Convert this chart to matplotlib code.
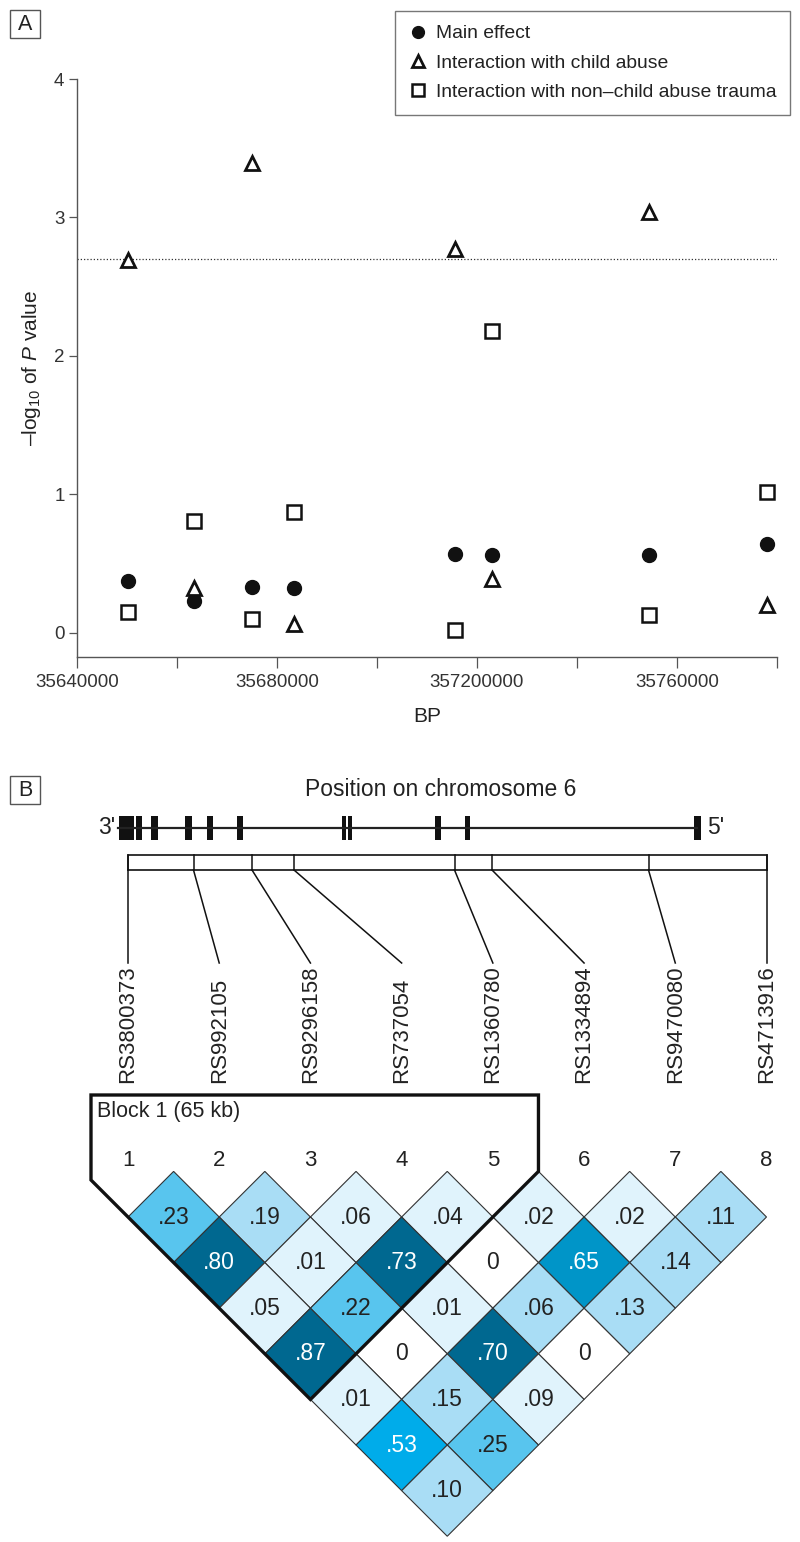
import numpy as np
import matplotlib
matplotlib.use("Agg")
import matplotlib.pyplot as plt
from matplotlib.patches import Polygon, Rectangle

plt.rcParams['font.family'] = ['Liberation Sans', 'DejaVu Sans']
plt.rcParams['mathtext.fontset'] = 'custom'
plt.rcParams['mathtext.rm'] = 'Liberation Sans'
plt.rcParams['mathtext.it'] = 'Liberation Sans:italic'

# SNPs (panel A x positions and panel B labels)
snp_names = ['RS3800373', 'RS992105', 'RS9296158', 'RS737054',
             'RS1360780', 'RS1334894', 'RS9470080', 'RS4713916']
snp_bp = [35650200, 35663300, 35675000, 35683400,
          35715500, 35723000, 35754300, 35777900]

# -log10 P values
main_effect = [0.37, 0.23, 0.33, 0.32, 0.57, 0.56, 0.56, 0.64]
child_abuse = [2.69, 0.32, 3.39, 0.06, 2.77, 0.39, 3.04, 0.20]
non_child_abuse = [0.15, 0.81, 0.10, 0.87, 0.02, 2.18, 0.13, 1.02]
threshold = 2.70

xticks = [35640000, 35660000, 35680000, 35700000, 35720000, 35740000, 35760000, 35780000]
xticklabels = ['35640000', '', '35680000', '', '357200000', '', '35760000', '']

# gene structure (bp)
gene_span = [35648200, 35764000]
exon_start = [35648400, 35650200, 35651800, 35654800, 35661600, 35666000,
              35672000, 35693000, 35694200, 35711600, 35717600, 35763400]
exon_end = [35650200, 35651400, 35653000, 35656200, 35663000, 35667200,
            35673200, 35693800, 35695000, 35712800, 35718600, 35764800]

# LD values, one row per SNP distance (1..7)
ld_vals = [[.23, .19, .06, .04, .02, .02, .11],
           [.80, .01, .73, 0, .65, .14],
           [.05, .22, .01, .06, .13],
           [.87, 0, .70, 0],
           [.01, .15, .09],
           [.53, .25],
           [.10]]
ld_shade = [[3, 2, 1, 1, 1, 1, 2],
            [6, 1, 6, 0, 5, 2],
            [1, 3, 1, 2, 2],
            [6, 0, 6, 0],
            [1, 2, 1],
            [4, 3],
            [2]]
shade_colors = ['#ffffff', '#e0f3fc', '#a9ddf5', '#58c5ee', '#00acea', '#0095c8', '#006890']
block_snps = 5

txt = '#222222'
fig = plt.figure(figsize=(8, 15.42), dpi=100)

# ---------------- panel A ----------------
ax = fig.add_axes([77/800, 1-657/1542, 700/800, 578/1542])
ax.plot(snp_bp, main_effect, 'o', color='#111111', ms=10, label='Main effect', zorder=3)
ax.plot(snp_bp, child_abuse, '^', mfc='white', mec='#111111', mew=2, ms=10,
        label='Interaction with child abuse', zorder=3)
ax.plot(snp_bp, non_child_abuse, 's', mfc='white', mec='#111111', mew=1.8, ms=10,
        label='Interaction with non\u2013child abuse trauma', zorder=3)
ax.axhline(threshold, color='#333333', lw=0.9, ls=(0, (1, 1.6)), zorder=1)

ax.set_xlim(35640000, 35780000)
ax.set_ylim(-0.1756, 4.0)
ax.set_xticks(xticks)
ax.set_xticklabels(xticklabels)
ax.set_yticks([0, 1, 2, 3, 4])
for s in ['top', 'right']:
    ax.spines[s].set_visible(False)
for s in ['left', 'bottom']:
    ax.spines[s].set_color('#555555')
    ax.spines[s].set_linewidth(1.0)
ax.tick_params(axis='x', length=8, width=0.9, color='#555555', labelsize=13.5,
               labelcolor='#333333', pad=4)
ax.tick_params(axis='y', length=6, width=0.9, color='#555555', labelsize=13.5,
               labelcolor='#333333', pad=3)
ax.set_xlabel('BP', fontsize=15, color=txt, labelpad=12)
ax.set_ylabel('\u2013log$_{10}$ of $P$ value', fontsize=15, color=txt, labelpad=8)

leg = fig.legend(loc='upper right', bbox_to_anchor=(790/800, 1-11/1542),
                 borderaxespad=0, fontsize=13.9, frameon=True, fancybox=False,
                 handletextpad=0.4, handlelength=1.0, borderpad=0.72, labelspacing=0.6,
                 markerscale=0.85)
leg.get_frame().set_edgecolor('#555555')
leg.get_frame().set_linewidth(1.0)
for t in leg.get_texts():
    t.set_color(txt)

# ---------------- overlay in pixel coords ----------------
ov = fig.add_axes([0, 0, 1, 1])
ov.set_xlim(0, 800)
ov.set_ylim(1542, 0)
ov.axis('off')
ov.patch.set_alpha(0)


def bp2px(v):
    return ax.transData.transform(np.column_stack([np.atleast_1d(v), np.zeros(np.size(v))]))[:, 0]


# panel letters
for lab, y0 in [('A', 10), ('B', 776)]:
    ov.add_patch(Rectangle((10, y0), 30, 28, fill=False, ec='#555555', lw=1.0))
    ov.text(25, y0 + 14, lab, ha='center', va='center', fontsize=15.5, color=txt)

# gene diagram
gx = bp2px(gene_span)
ov.plot(gx, [828, 828], color='#222222', lw=1.6)
es, ee = bp2px(exon_start), bp2px(exon_end)
for a, b in zip(es, ee):
    ov.add_patch(Rectangle((a, 816), b - a, 24, fc='#111111', ec='none'))
ov.text(gx[0] - 3, 828, "3'", ha='right', va='center', fontsize=16.5, color=txt)
ov.text(gx[1] + 10, 828, "5'", ha='left', va='center', fontsize=16.5, color=txt)
ov.text(441, 789, 'Position on chromosome 6', ha='center', va='center', fontsize=16.5, color=txt)

# SNP bracket box and leader lines
sx = bp2px(snp_bp)
n = len(snp_names)
lx = np.linspace(sx[0], sx[-1], n)
ov.add_patch(Rectangle((sx[0], 855), sx[-1] - sx[0], 15, fill=False, ec='#111111', lw=1.2))
for i in range(n):
    ov.plot([sx[i], sx[i]], [855, 870], color='#111111', lw=1.1)
    ov.plot([sx[i], lx[i]], [870, 963], color='#111111', lw=1.1)
    ov.text(lx[i], 1083, snp_names[i], rotation=90, ha='center', va='bottom',
            fontsize=16, color=txt)
    ov.text(lx[i], 1161, str(i + 1), ha='center', va='center', fontsize=16, color=txt)

# LD diamonds
h = (lx[1] - lx[0]) / 2
ytop = 1217
for d, (row, shades) in enumerate(zip(ld_vals, ld_shade), start=1):
    for i, (v, sh) in enumerate(zip(row, shades)):
        cx = (lx[i] + lx[i + d]) / 2
        cy = ytop + (d - 1) * h
        ov.add_patch(Polygon([(cx, cy - h), (cx + h, cy), (cx, cy + h), (cx - h, cy)],
                             closed=True, fc=shade_colors[sh], ec='#333333', lw=0.8))
        lab = '0' if v == 0 else ('%.2f' % v)[1:]
        ov.text(cx, cy, lab, ha='center', va='center', fontsize=16.5,
                color='white' if sh >= 4 else txt)

# block 1 outline
bx_r = lx[block_snps - 1] + h
bot_x = (lx[0] + lx[block_snps - 1]) / 2
bot_y = ytop + (block_snps - 2) * h + h
left_x = 91
left_y = bot_y - (bot_x - left_x)
ov.add_patch(Polygon([(left_x, 1095), (bx_r, 1095), (bx_r, ytop - h), (bot_x, bot_y),
                      (left_x, left_y)], closed=True, fill=False, ec='#111111', lw=2.4,
                     joinstyle='miter'))
ov.text(97, 1112, 'Block 1 (65 kb)', ha='left', va='center', fontsize=15.5, color=txt)

fig.savefig('out.png', dpi=100)
